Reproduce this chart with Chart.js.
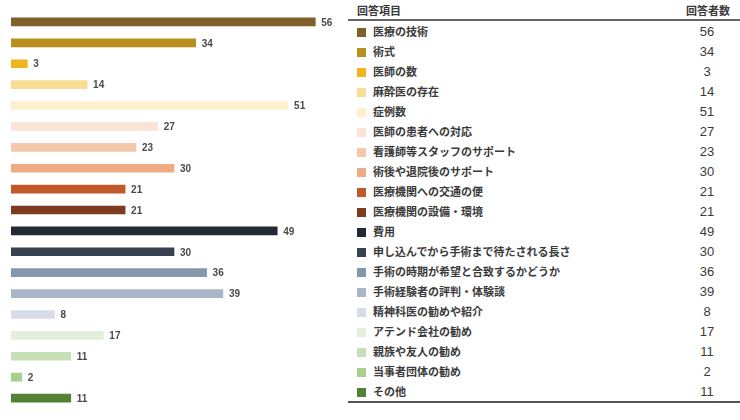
<!DOCTYPE html>
<html>
<head>
<meta charset="utf-8">
<script src="https://cdn.jsdelivr.net/npm/chart.js@4"></script>
<style>
html, body { margin: 0; padding: 0; background: #fff; }
#wrap { position: relative; width: 740px; height: 420px; overflow: hidden; }
#chartBox { position: absolute; left: 0; top: 0; width: 345px; height: 420px; }
#tbl { position: absolute; left: 348px; top: 0; width: 392px; border-collapse: collapse;
  font-family: "Noto Sans CJK JP", sans-serif; font-size: 11px; font-weight: bold; color: #3a3a3a; }
#tbl th { height: 19px; font-weight: bold; padding: 0; border-bottom: 2px solid #666; vertical-align: middle; font-size: 11px; }
#tbl td { height: 20px; padding: 0; vertical-align: middle; }
#tbl tr:last-child td { border-bottom: 2px solid #555; }
.sq { display: inline-block; width: 9px; height: 9px; margin: 0 7px 0 9px; vertical-align: -1px; }
.num { text-align: center; width: 64px; padding-right: 1px !important; font-family: "Liberation Sans Narrow", "Liberation Sans", sans-serif; font-size: 13px; font-weight: normal; }
</style>
</head>
<body>
<div id="wrap">
  <div id="chartBox"><canvas id="bars"></canvas></div>
  <table id="tbl"><thead><tr><th style="text-align:left;padding-left:9px">回答項目</th><th style="text-align:right;padding-right:10px">回答者数</th></tr></thead><tbody id="rows"></tbody></table>
</div>
<script>
var items = ["医療の技術", "術式", "医師の数", "麻酔医の存在", "症例数", "医師の患者への対応", "看護師等スタッフのサポート", "術後や退院後のサポート", "医療機関への交通の便", "医療機関の設備・環境", "費用", "申し込んでから手術まで待たされる長さ", "手術の時期が希望と合致するかどうか", "手術経験者の評判・体験談", "精神科医の勧めや紹介", "アテンド会社の勧め", "親族や友人の勧め", "当事者団体の勧め", "その他"];
var counts = [56, 34, 3, 14, 51, 27, 23, 30, 21, 21, 49, 30, 36, 39, 8, 17, 11, 2, 11];
var colors = ["#7f602b", "#b98f1e", "#f2b41d", "#f9dc95", "#fdf0cd", "#fbe3d5", "#f6c8ab", "#efab84", "#c0582a", "#7d3b1f", "#222a33", "#394250", "#8497ad", "#a9b6c8", "#d7dce7", "#e3efda", "#c6dfb6", "#a8d08d", "#548235"];

// table on the right
var tb = document.getElementById('rows');
for (let i = 0; i < items.length; i++) {
  let tr = document.createElement('tr');
  tr.innerHTML = '<td><span class="sq" style="background:' + colors[i] + '"></span>' + items[i] + '</td><td class="num">' + counts[i] + '</td>';
  tb.appendChild(tr);
}

// value labels at the end of each bar
var valueLabels = {
  id: 'valueLabels',
  afterDatasetsDraw: function(chart) {
    var c = chart.ctx;
    var meta = chart.getDatasetMeta(0);
    c.save();
    c.font = 'bold 10px "Liberation Sans", Arial, sans-serif';
    c.fillStyle = '#4a4a4a';
    c.textAlign = 'left';
    c.textBaseline = 'middle';
    meta.data.forEach(function(bar, i) {
      c.fillText(counts[i], bar.x + 6, bar.y + 1);
    });
    c.restore();
  }
};

var ctx = document.getElementById('bars').getContext('2d');
var chart = new Chart(ctx, {
  type: 'bar',
  data: {
    labels: items,
    datasets: [{
      data: counts,
      backgroundColor: colors,
      barThickness: 8
    }]
  },
  options: {
    indexAxis: 'y',
    responsive: true,
    maintainAspectRatio: false,
    animation: false,
    layout: { padding: { left: 11, right: 8, top: 11.5, bottom: 11.5 } },
    plugins: { legend: { display: false }, tooltip: { enabled: false } },
    scales: {
      x: { display: false, min: 0, max: 60 },
      y: { display: false }
    }
  },
  plugins: [valueLabels]
});
</script>
</body>
</html>
